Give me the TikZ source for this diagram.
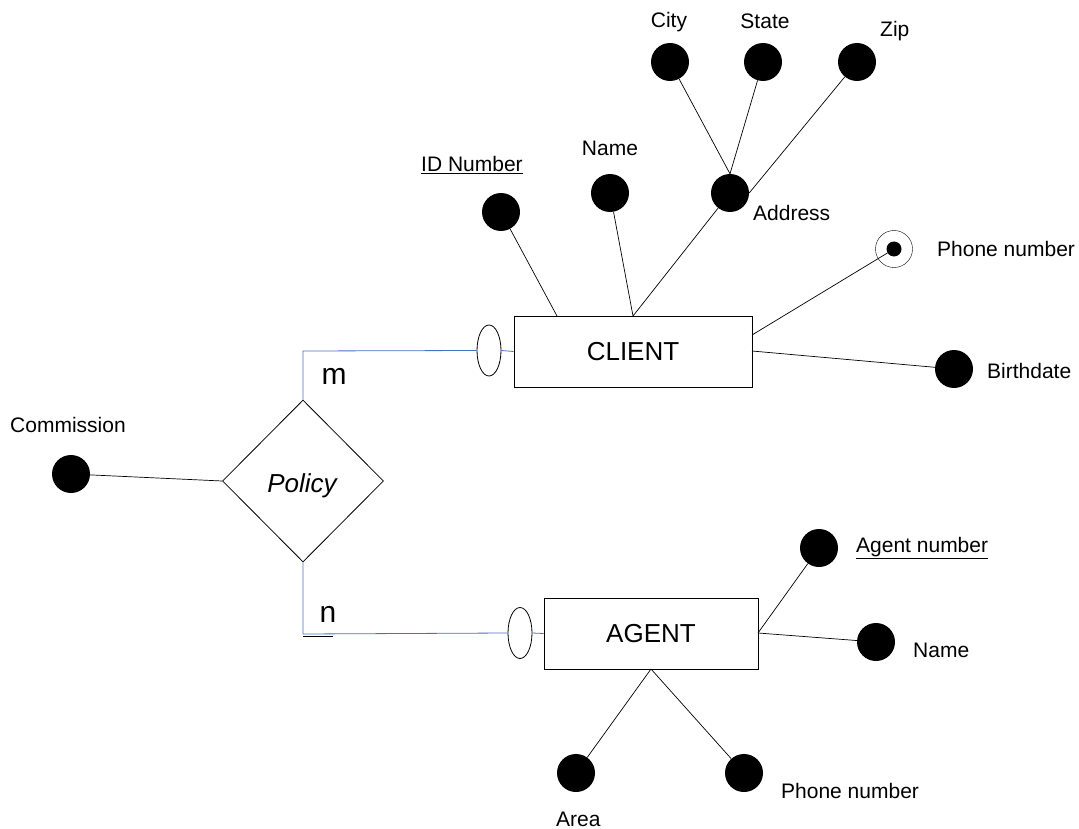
\documentclass[tikz,border=0pt]{standalone}
\usepackage{fontspec}
\setmainfont{Liberation Sans}
\usetikzlibrary{shapes.geometric}
\definecolor{linkblue}{RGB}{68,114,196}

\begin{document}
\begin{tikzpicture}[x=1pt, y=-1pt,
  attr/.style={circle, fill=black, minimum size=38pt, inner sep=0pt},
  entity/.style={draw, line width=0.8pt, minimum height=71pt, inner sep=0pt, font=\fontsize{26}{30}\selectfont},
  rel/.style={draw, line width=0.8pt, diamond, minimum width=161pt, minimum height=162pt, inner sep=0pt},
  ring/.style={draw, line width=0.8pt, ellipse, minimum width=24pt, minimum height=51pt, inner sep=0pt},
  attrname/.style={inner sep=0pt, font=\fontsize{21}{25}\selectfont},
  card/.style={inner sep=0pt, anchor=base, font=\fontsize{30}{34}\selectfont},
  link/.style={draw=linkblue, line width=0.8pt},
  edge/.style={line width=0.7pt}]
  \useasboundingbox (0,0) rectangle (1079,829);

  \node[entity, minimum width=238pt] (client) at (633,351.5) {CLIENT};
  \node[entity, minimum width=214pt] (agent) at (651,633.5) {AGENT};
  \node[rel] (policy) at (303,481) {};
  \node[inner sep=0pt, anchor=base, font=\fontsize{26}{30}\selectfont\itshape] (policyname) at (302,492) {Policy};
  \node[ring] (cliento) at (489,350.5) {};
  \node[ring] (agento) at (520,633) {};
  \node[card] (mcard) at (334,384) {m};
  \node[card] (ncard) at (328,622) {n};

  \coordinate (mjoin) at (303,351);
  \coordinate (njoin) at (303,634);
  \coordinate (nbarl) at (303,636);
  \coordinate (nbarr) at (333,636);
  \coordinate (ctopl) at (557,316);
  \coordinate (ctopr) at (633,316);
  \coordinate (crightu) at (752,335);
  \coordinate (crightd) at (752,351);
  \coordinate (aright) at (758,633);
  \coordinate (abottom) at (651,669);

  \draw[link] (cliento.west) -- (mjoin) -- (policy.north);
  \draw[link] (cliento.east) -- (client.west);
  \draw[link] (policy.south) -- (njoin) -- (agento.west);
  \draw[link] (agento.east) -- (agent.west);
  \draw[edge] (nbarl) -- (nbarr);

  \node[attr] (idnum) at (501,212) {};
  \node[attrname, anchor=base] (idnumname) at (472,172) {\underline{ID Number}};
  \node[attr] (cname) at (610,193) {};
  \node[attrname, anchor=base] (cnamename) at (610,156) {Name};
  \node[attr] (addr) at (730,193) {};
  \node[attrname, anchor=base west] (addrname) at (753,221) {Address};
  \node[attr] (city) at (670,62) {};
  \node[attrname, anchor=base] (cityname) at (669,28) {City};
  \node[attr] (state) at (763,62) {};
  \node[attrname, anchor=base] (statename) at (765,29) {State};
  \node[attr] (zip) at (857,62) {};
  \node[attrname, anchor=base west] (zipname) at (880,37) {Zip};
  \node[draw, circle, minimum size=37pt, inner sep=0pt] (cphonering) at (894,249) {};
  \node[circle, fill=black, minimum size=15pt, inner sep=0pt] (cphone) at (894,249) {};
  \node[attrname, anchor=base west] (cphonename) at (937,256) {Phone number};
  \node[attr] (birth) at (954,369) {};
  \node[attrname, anchor=base west] (birthname) at (987,378) {Birthdate};
  \node[attr] (comm) at (71,474) {};
  \node[attrname, anchor=base] (commname) at (68,432) {Commission};

  \node[attr] (agnum) at (819,548) {};
  \node[attrname, anchor=base west] (agnumname) at (856,552) {\underline{Agent number}};
  \node[attr] (aname) at (876,642) {};
  \node[attrname, anchor=base west] (anamename) at (913,657) {Name};
  \node[attr] (area) at (576,773) {};
  \node[attrname, anchor=base west] (areaname) at (556,826) {Area};
  \node[attr] (aphone) at (744,773) {};
  \node[attrname, anchor=base west] (aphonename) at (781,798) {Phone number};

  \draw[edge] (idnum) -- (ctopl);
  \draw[edge] (cname) -- (ctopr);
  \draw[edge] (addr) -- (ctopr);
  \draw[edge] (city) -- (addr.north);
  \draw[edge] (state) -- (addr.north);
  \draw[edge] (zip) -- (addr.east);
  \draw[edge] (cphone) -- (crightu);
  \draw[edge] (birth) -- (crightd);
  \draw[edge] (comm) -- (policy.west);
  \draw[edge] (agnum) -- (aright);
  \draw[edge] (aname) -- (aright);
  \draw[edge] (area) -- (abottom);
  \draw[edge] (aphone) -- (abottom);
\end{tikzpicture}
\end{document}
